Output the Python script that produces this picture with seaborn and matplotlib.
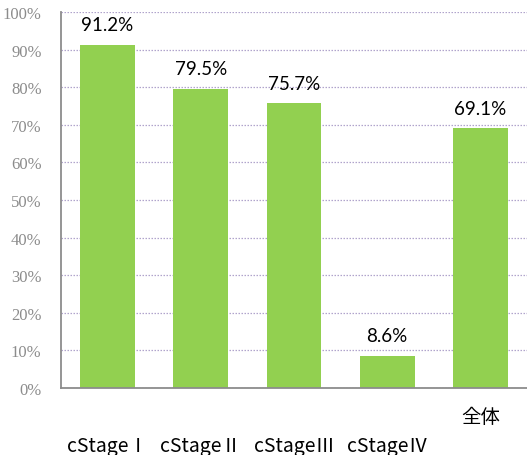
import matplotlib
matplotlib.use('Agg')
import matplotlib.pyplot as plt
import seaborn as sns
import pandas as pd

# данные с картинки
stages = ['cStageⅠ', 'cStageⅡ', 'cStageⅢ', 'cStageⅣ', '全体']
tick_labels = ['\ncStageⅠ', '\ncStageⅡ', '\ncStageⅢ', '\ncStageⅣ', '全体\n']
rates = [91.2, 79.5, 75.7, 8.6, 69.1]

df = pd.DataFrame({'stage': stages, 'rate': rates})

sns.set_style('white')
plt.rcParams['font.family'] = ['Noto Sans CJK JP', 'DejaVu Sans']

fig = plt.figure(figsize=(5.27, 4.56), dpi=100)
ax = fig.add_axes([61 / 527, 67 / 456, 466 / 527, 376 / 456])

sns.barplot(data=df, x='stage', y='rate', ax=ax, color='#92D050',
            saturation=1, width=0.59, edgecolor='none')

ax.set_xlim(-0.5, 4.5)
ax.set_ylim(0, 100)

# сетка пунктиром
ax.set_yticks(range(0, 101, 10))
ax.set_yticklabels([f'{v}%' for v in range(0, 101, 10)],
                   family='Liberation Serif', fontsize=12, color='#8c8c8c')
ax.yaxis.grid(True, linestyle=(0, (1.2, 1.2)), color='#b0a4cc', linewidth=0.9)
ax.set_axisbelow(True)

# риски на границах категорий, подписи по центру
ax.set_xticks([-0.5, 0.5, 1.5, 2.5, 3.5, 4.5])
ax.set_xticklabels([])
ax.set_xticks(range(len(stages)), minor=True)
ax.set_xticklabels(tick_labels, minor=True, fontsize=14, color='black')
for lab in ax.get_xticklabels(minor=True):
    lab.set_linespacing(1.5)
ax.tick_params(axis='x', which='minor', length=0, pad=13)
ax.tick_params(axis='x', which='major', length=5, width=1.3, color='#8c8c8c', direction='out')
ax.tick_params(axis='y', length=5, width=1.3, color='#8c8c8c', direction='out', pad=9)
ax.set_xlabel('')
ax.set_ylabel('')

for side in ['top', 'right']:
    ax.spines[side].set_visible(False)
for side in ['left', 'bottom']:
    ax.spines[side].set_color('#8c8c8c')
    ax.spines[side].set_linewidth(1.3)

# подписи значений
for i, v in enumerate(rates):
    ax.annotate(f'{v:.1f}%', (i, v), xytext=(0, 14.5), textcoords='offset points',
                ha='center', va='center', fontsize=13.5, family='Lato', color='black')

fig.savefig('out.png', dpi=100)
